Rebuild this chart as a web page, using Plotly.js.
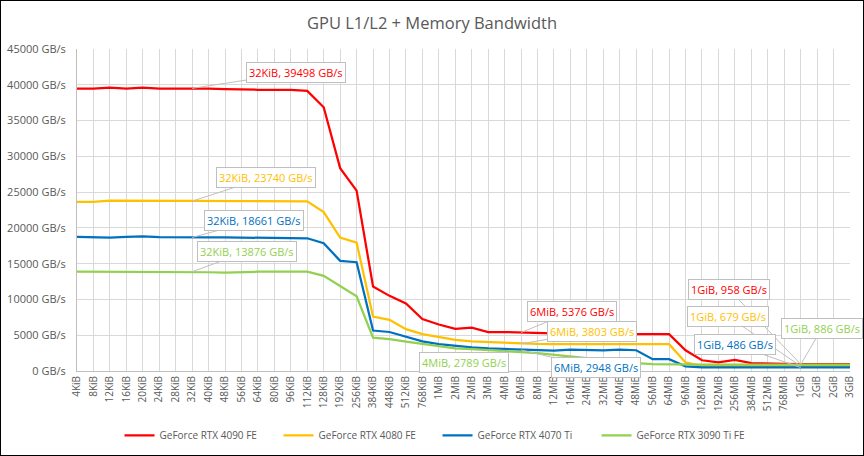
<!DOCTYPE html>
<html>
<head>
<meta charset="utf-8">
<script src="https://cdn.plot.ly/plotly-3.0.1.min.js"></script>
<style>
html,body{margin:0;padding:0;background:#fff;}
#chart{width:864px;height:456px;box-sizing:border-box;border:1px solid #000;}
</style>
</head>
<body>
<div id="chart"></div>
<script>
const categories = ["4KiB","8KiB","12KiB","16KiB","20KiB","24KiB","28KiB","32KiB","40KiB","48KiB","56KiB","64KiB","80KiB","96KiB","112KiB","128KiB","192KiB","256KiB","384KiB","448KiB","512KiB","768KiB","1MiB","2MiB","2MiB","3MiB","4MiB","6MiB","8MiB","12MiB","16MiB","24MiB","32MiB","40MiB","48MiB","56MiB","64MiB","96MiB","128MiB","192MiB","256MiB","384MiB","512MiB","768MiB","1GiB","2GiB","2GiB","3GiB"];

const seriesNames = ["GeForce RTX 4090 FE","GeForce RTX 4080 FE","GeForce RTX 4070 Ti","GeForce RTX 3090 Ti FE"];

const rtx4090 = [39450,39450,39600,39450,39600,39450,39450,39498,39450,39400,39300,39300,39300,39300,39150,36850,28350,25200,11800,10500,9450,7250,6500,5900,6050,5450,5450,5376,5250,5200,5200,5150,5150,5200,5200,5150,5150,2900,1500,1200,1550,1100,1000,980,958,950,950,950];
const rtx4080 = [23650,23650,23800,23800,23800,23800,23700,23740,23800,23800,23700,23700,23800,23800,23700,22200,18650,17950,7600,7150,5850,5150,4700,4350,4150,4050,3900,3803,3780,3750,3750,3750,3750,3750,3750,3750,3750,1200,700,690,690,685,680,680,679,680,680,680];
const rtx4070ti = [18750,18650,18650,18750,18800,18700,18661,18661,18661,18661,18650,18650,18650,18600,18550,17850,15400,15200,5650,5450,4800,4150,3750,3500,3300,3150,3100,2948,2900,2850,3000,2950,2900,3000,2900,1650,1650,650,500,495,490,490,488,487,486,490,490,490];
const rtx3090ti = [13876,13876,13876,13876,13876,13876,13876,13876,13800,13750,13850,13876,13876,13876,13876,13300,11900,10450,4650,4450,4100,3750,3400,3150,3050,2950,2789,2650,2500,2300,2050,1800,1550,1300,1100,950,900,886,886,886,886,886,886,886,886,886,886,886];

const colors = ["#FF0000","#FFC000","#0070C0","#92D050"];
const allSeries = [rtx4090, rtx4080, rtx4070ti, rtx3090ti];
const xIdx = categories.map((c,i)=>i);

const traces = allSeries.map((s,k)=>({
  x: xIdx, y: s, type:"scatter", mode:"lines", name: seriesNames[k],
  line:{color:colors[k], width:2.25}
}));

// callouts: [series index, category index, ax, ay]
const callouts = [
  [0,7,104,-16],[1,7,74,-24],[2,7,62,-17],[3,7,55,-20],
  [0,27,51,-21],[1,27,71,-12],[2,27,75,18],[3,26,-41,11],
  [0,44,-72,-75],[1,44,-73,-50],[2,44,-66,-23],[3,44,21,-36]
];
const annotations = callouts.map(([k,i,ax,ay])=>({
  x:i, y:allSeries[k][i], xref:"x", yref:"y",
  text: categories[i]+", "+allSeries[k][i]+" GB/s",
  showarrow:true, arrowhead:0, arrowwidth:1, arrowcolor:"#BFBFBF",
  ax:ax, ay:ay, bgcolor:"#FFFFFF", bordercolor:"#BFBFBF", borderwidth:1, borderpad:2,
  font:{family:"Open Sans, sans-serif", size:11, color:colors[k]}
}));

const layout = {
  width:862, height:454,
  margin:{l:76, r:13, t:48, b:84, autoexpand:false},
  paper_bgcolor:"#FFFFFF", plot_bgcolor:"#FFFFFF",
  title:{text:"GPU L1/L2 + Memory Bandwidth", x:0.5, xanchor:"center", y:0.952, yanchor:"middle",
         font:{family:"Open Sans, sans-serif", size:16.5, color:"#595959"}},
  font:{family:"Open Sans, sans-serif", color:"#595959"},
  xaxis:{range:[0,47], tickmode:"array", tickvals:xIdx, ticktext:categories, tickangle:-90,
         tickfont:{size:10, color:"#595959"}, showgrid:true, gridcolor:"#D9D9D9", gridwidth:1,
         showline:true, linecolor:"#BFBFBF", linewidth:1, zeroline:false, ticks:"", fixedrange:true},
  yaxis:{range:[0,45000], tickmode:"linear", tick0:0, dtick:5000, tickformat:"d", ticksuffix:" GB/s",
         tickfont:{size:11, color:"#595959"}, showgrid:true, gridcolor:"#D9D9D9", gridwidth:1,
         showline:true, linecolor:"#BFBFBF", linewidth:1, zeroline:false, ticks:"", ticklabelstandoff:8, fixedrange:true},
  showlegend:true,
  legend:{orientation:"h", x:0.055, xanchor:"left", y:-0.2, yanchor:"middle",
          entrywidth:114, entrywidthmode:"pixels", itemwidth:30,
          font:{family:"Open Sans, sans-serif", size:10, color:"#595959"}},
  annotations: annotations
};

Plotly.newPlot("chart", traces, layout, {displayModeBar:false, staticPlot:true});
</script>
</body>
</html>
